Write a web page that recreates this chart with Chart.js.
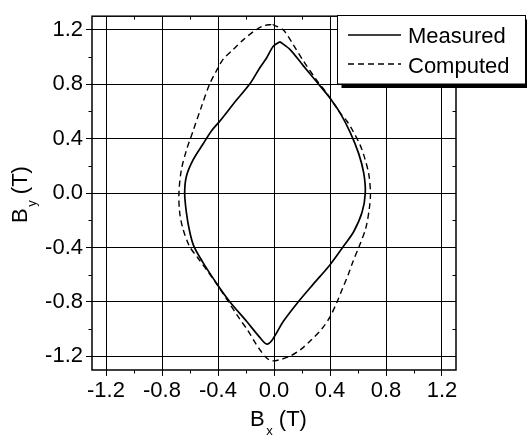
<!DOCTYPE html>
<html>
<head>
<meta charset="utf-8">
<script src="https://cdn.jsdelivr.net/npm/chart.js@4/dist/chart.umd.min.js"></script>
<style>
  html, body { margin: 0; padding: 0; background: #fff; }
  #c { display: block; }
</style>
</head>
<body>
<canvas id="c" width="527" height="436"></canvas>
<script>
// Measured flux-density locus (Bx, By in tesla), clockwise from the upper tip
const measuredBx = [0.043, 0.115, 0.210, 0.306, 0.402, 0.473, 0.545, 0.605, 0.641, 0.652, 0.629, 0.569, 0.500, 0.402, 0.282, 0.174, 0.067, -0.010, -0.052, -0.100, -0.196, -0.316, -0.400, -0.507, -0.572, -0.602, -0.626, -0.638, -0.626, -0.579, -0.507, -0.447, -0.387, -0.268, -0.172, -0.100, -0.052, -0.005];
const measuredBy = [1.112, 1.055, 0.935, 0.816, 0.696, 0.588, 0.445, 0.290, 0.146, 0.000, -0.141, -0.284, -0.385, -0.524, -0.667, -0.798, -0.942, -1.075, -1.109, -1.062, -0.942, -0.798, -0.679, -0.511, -0.392, -0.284, -0.141, 0.000, 0.122, 0.242, 0.361, 0.457, 0.529, 0.684, 0.803, 0.923, 0.995, 1.079];

// Computed locus, clockwise from the top
const computedBx = [-0.010, 0.067, 0.138, 0.210, 0.306, 0.378, 0.473, 0.520, 0.557, 0.617, 0.650, 0.677, 0.689, 0.680, 0.655, 0.605, 0.565, 0.530, 0.490, 0.450, 0.400, 0.340, 0.270, 0.190, 0.110, 0.040, -0.020, -0.060, -0.105, -0.140, -0.184, -0.255, -0.325, -0.395, -0.470, -0.545, -0.603, -0.651, -0.674, -0.679, -0.662, -0.626, -0.578, -0.520, -0.459, -0.411, -0.364, -0.292, -0.220, -0.148, -0.077];
const computedBy = [1.239, 1.198, 1.090, 0.971, 0.828, 0.732, 0.588, 0.530, 0.469, 0.349, 0.250, 0.140, 0.000, -0.120, -0.260, -0.400, -0.500, -0.600, -0.700, -0.800, -0.910, -1.000, -1.075, -1.150, -1.200, -1.225, -1.232, -1.205, -1.145, -1.090, -1.014, -0.910, -0.800, -0.690, -0.580, -0.475, -0.392, -0.260, -0.141, 0.000, 0.170, 0.313, 0.457, 0.630, 0.803, 0.899, 0.983, 1.055, 1.126, 1.186, 1.229];

// Axis ticks
const tickValues = [-1.2, -0.8, -0.4, 0.0, 0.4, 0.8, 1.2];
const xTickLabels = ['-1.2', '-0.8', '-0.4', '0.0', '0.4', '0.8', '1.2'];
const yTickLabels = ['-1.2', '-0.8', '-0.4', '0.0', '0.4', '0.8', '1.2'];
const minorTickValues = [-1.0, -0.6, -0.2, 0.2, 0.6, 1.0];
const seriesNames = ['Measured', 'Computed'];

const FONT = "'Liberation Sans', Arial, Helvetica, sans-serif";

function loop(xs, ys) {
  const pts = xs.map((x, i) => ({ x: x, y: ys[i] }));
  pts.push({ x: xs[0], y: ys[0] }); // close the curve
  return pts;
}

// Frame, minor ticks, boxed legend with drop shadow and axis titles with subscripts
const decor = {
  id: 'decor',
  afterDraw(chart) {
    const ctx = chart.ctx;
    const a = chart.chartArea;
    const xs = chart.scales.x, ys = chart.scales.y;
    const seg = (x1, y1, x2, y2) => { ctx.beginPath(); ctx.moveTo(x1, y1); ctx.lineTo(x2, y2); ctx.stroke(); };
    ctx.save();
    ctx.strokeStyle = '#000';

    // minor ticks: outside on bottom/left, inside on top/right
    ctx.lineWidth = 1;
    minorTickValues.forEach(v => {
      const px = Math.round(xs.getPixelForValue(v)) + 0.5;
      seg(px, a.bottom, px, a.bottom + 3.5);
      seg(px, a.top, px, a.top + 3.5);
      const py = Math.round(ys.getPixelForValue(v)) + 0.5;
      seg(a.left - 3.5, py, a.left, py);
      seg(a.right - 3.5, py, a.right, py);
    });

    // plot frame
    ctx.lineWidth = 1.5;
    ctx.strokeRect(a.left, a.top, a.right - a.left, a.bottom - a.top);

    // legend box with shadow
    const bx = 337.5, by = 15.5, bw = 188, bh = 68.5;
    ctx.fillStyle = '#000';
    ctx.fillRect(bx + 4, by + 4, bw, bh);
    ctx.fillStyle = '#fff';
    ctx.fillRect(bx, by, bw, bh);
    ctx.lineWidth = 1;
    ctx.strokeRect(bx, by, bw, bh);

    const styles = chart.data.datasets.map(d => ({ w: d.borderWidth, dash: d.borderDash || [] }));
    const rows = [35, 64];
    const baselines = [42.5, 72.5];
    ctx.font = '22px ' + FONT;
    ctx.textBaseline = 'alphabetic';
    ctx.textAlign = 'left';
    seriesNames.forEach((name, i) => {
      ctx.lineWidth = styles[i].w;
      ctx.setLineDash(styles[i].dash);
      seg(348, rows[i], 401, rows[i]);
      ctx.setLineDash([]);
      ctx.fillStyle = '#000';
      ctx.fillText(name, 408, baselines[i]);
    });

    // axis titles: B with subscript, then (T)
    const drawTitle = (sub, cx, base) => {
      ctx.font = '22px ' + FONT;
      const wB = ctx.measureText('B').width;
      const wRest = ctx.measureText(' (T)').width;
      ctx.font = '13px ' + FONT;
      const wS = ctx.measureText(sub).width;
      const total = wB + 1.5 + wS + wRest;
      const x0 = cx - total / 2;
      ctx.fillStyle = '#000';
      ctx.textAlign = 'left';
      ctx.font = '22px ' + FONT;
      ctx.fillText('B', x0, base);
      ctx.font = '13px ' + FONT;
      ctx.fillText(sub, x0 + wB + 1.5, base + 8.5);
      ctx.font = '22px ' + FONT;
      ctx.fillText(' (T)', x0 + wB + 1.5 + wS, base);
    };
    drawTitle('x', 278.5, 426);

    ctx.save();
    ctx.translate(27, 194.5);
    ctx.rotate(-Math.PI / 2);
    drawTitle('y', 0, 0);
    ctx.restore();

    ctx.restore();
  }
};

const axisCommon = (labels) => ({
  type: 'linear',
  min: -1.3,
  max: 1.3,
  afterBuildTicks: s => { s.ticks = tickValues.map(v => ({ value: v })); },
  grid: { color: '#000', lineWidth: 1, drawTicks: true, tickLength: 6, tickColor: '#000' },
  border: { display: false },
  ticks: {
    color: '#000',
    font: { family: FONT, size: 22 },
    autoSkip: false,
    maxRotation: 0,
    callback: (v, i) => labels[i]
  }
});

const xAxis = axisCommon(xTickLabels);
xAxis.afterFit = s => { s.height = 66; };
xAxis.ticks.padding = 2;

const yAxis = axisCommon(yTickLabels);
yAxis.afterFit = s => { s.width = 92; };
yAxis.ticks.padding = 3;

new Chart(document.getElementById('c'), {
  type: 'scatter',
  data: {
    datasets: [
      {
        label: seriesNames[0],
        data: loop(measuredBx, measuredBy),
        showLine: true,
        borderColor: '#000',
        borderWidth: 1.7,
        pointRadius: 0,
        tension: 0.3,
        fill: false
      },
      {
        label: seriesNames[1],
        data: loop(computedBx, computedBy),
        showLine: true,
        borderColor: '#000',
        borderWidth: 1.4,
        borderDash: [6, 4],
        pointRadius: 0,
        tension: 0.3,
        fill: false
      }
    ]
  },
  options: {
    responsive: false,
    animation: false,
    devicePixelRatio: 1,
    layout: { padding: { top: 7, right: 71, left: 0, bottom: 0 } },
    scales: { x: xAxis, y: yAxis },
    plugins: {
      legend: { display: false },
      tooltip: { enabled: false }
    }
  },
  plugins: [decor]
});
</script>
</body>
</html>
